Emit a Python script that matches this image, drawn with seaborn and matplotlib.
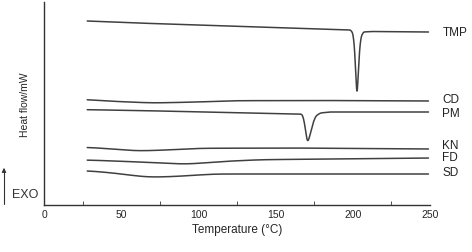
import numpy as np
import pandas as pd
import matplotlib.pyplot as plt
import seaborn as sns

# DSC curves, temperature (°C) vs heat flow (arbitrary units, exo up)
tmp_t = [28, 60, 100, 150, 190, 198.5, 200, 201, 202, 202.7, 203.4, 204.5, 205.5, 207, 212, 249]
tmp_y = [184, 182, 180, 177.5, 175.5, 175, 172, 160, 130, 104, 128, 158, 169, 173, 173.5, 173]

cd_t = [28, 40, 70, 100, 122, 180, 249]
cd_y = [105.5, 104, 102, 103, 104.3, 104.5, 104]

pm_t = [28, 60, 120, 166, 167.5, 169, 170.5, 172, 174, 176, 179, 185, 249]
pm_y = [95.3, 94.5, 92.5, 91, 90.5, 80, 61, 68, 81, 89, 92, 93, 93]

kn_t = [28, 40, 60, 80, 100, 160, 249]
kn_y = [57.7, 56.5, 54, 55, 56.7, 57, 56]

fd_t = [28, 45, 70, 92, 115, 140, 249]
fd_y = [45, 44, 42.5, 40.7, 43.5, 45.3, 47]

sd_t = [28, 45, 67, 85, 110, 180, 249]
sd_y = [34.3, 32, 27.7, 28.5, 31, 31, 31]

names = ["TMP", "CD", "PM", "KN", "FD", "SD"]
curves = [(tmp_t, tmp_y), (cd_t, cd_y), (pm_t, pm_y), (kn_t, kn_y), (fd_t, fd_y), (sd_t, sd_y)]
label_y = [173, 106, 92, 59.5, 48, 33]
smooth = [0.35, 6, 0.6, 6, 6, 6]  # gaussian width in °C


def smoothed(t, y, sig, step=0.05):
    tt = np.arange(t[0], t[-1] + step / 2, step)
    yy = np.interp(tt, t, y)
    n = int(4 * sig / step)
    k = np.exp(-0.5 * (np.arange(-n, n + 1) * step / sig) ** 2)
    k /= k.sum()
    pad = np.pad(yy, n, mode="edge")
    return tt, np.convolve(pad, k, mode="valid")


frames = []
for name, (t, y), sig in zip(names, curves, smooth):
    tt, yy = smoothed(t, y, sig)
    frames.append(pd.DataFrame({"T": tt, "hf": yy, "sample": name}))
df = pd.concat(frames)

sns.set_style("white")
plt.rcParams["font.family"] = ["Liberation Sans", "DejaVu Sans"]

fig = plt.figure(figsize=(4.72, 2.53), dpi=100)
ax = fig.add_axes([44 / 472, 47 / 253, 386 / 472, 203 / 253])
sns.lineplot(data=df, x="T", y="hf", units="sample", estimator=None,
             color="#404040", linewidth=1.1, ax=ax)

for name, ly in zip(names, label_y):
    ax.text(258, ly, name, fontsize=8.5, va="center", ha="left", color="#222222")

ax.set_xlim(0, 250)
ax.set_ylim(0, 203)
ax.set_xticks(range(0, 251, 50))
ax.set_xticks(range(25, 250, 50), minor=True)
ax.set_yticks([])
ax.tick_params(axis="x", which="major", direction="in", length=3, labelsize=7.5, pad=3, color="#333333")
ax.tick_params(axis="x", which="minor", direction="in", length=3, color="#333333", bottom=True)
ax.set_xlabel("Temperature (°C)", fontsize=8.5, labelpad=3)
ax.set_ylabel("Heat flow/mW", fontsize=7.5, labelpad=10)
for s in ["top", "right"]:
    ax.spines[s].set_visible(False)
for s in ["left", "bottom"]:
    ax.spines[s].set_color("#333333")
    ax.spines[s].set_linewidth(1.0)

fig.text(12 / 472, 1 - 195 / 253, "EXO", fontsize=9, va="center", ha="left", color="#333333")
fig.add_artist(plt.Line2D([4 / 472, 4 / 472], [1 - 205 / 253, 1 - 172 / 253], color="#333333", linewidth=0.8))
ax.annotate("", xy=(4 / 472, 1 - 166 / 253), xytext=(4 / 472, 1 - 176 / 253), xycoords="figure fraction",
            arrowprops=dict(arrowstyle="-|>", color="#333333", lw=0.8, mutation_scale=6))

fig.savefig("out.png", dpi=100)
